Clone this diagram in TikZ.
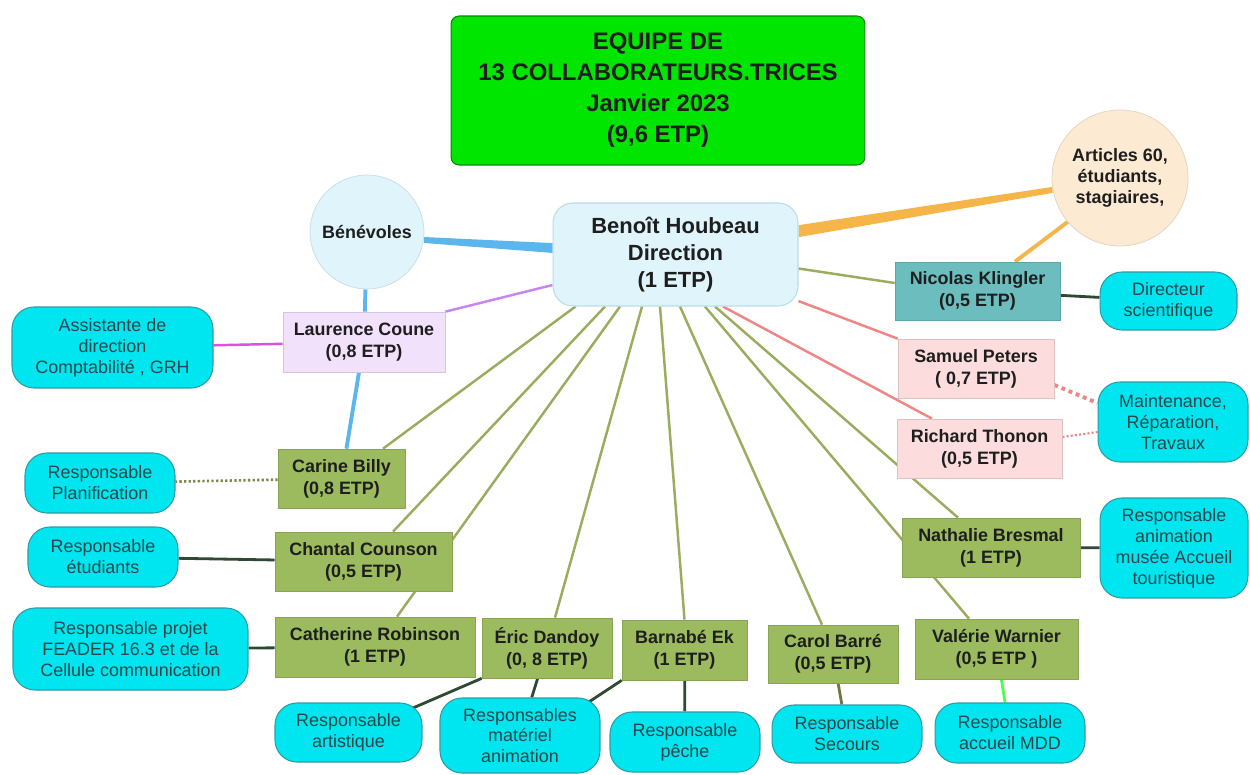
\documentclass[tikz,border=0pt]{standalone}
\usepackage{fontspec}
\setmainfont{Liberation Sans}

\definecolor{titlegreen}{HTML}{00E600}
\definecolor{bossfill}{HTML}{DFF5FB}
\definecolor{bossline}{HTML}{B9DDE9}
\definecolor{peachfill}{HTML}{FCEAD3}
\definecolor{klteal}{HTML}{6CBDBD}
\definecolor{laurafill}{HTML}{F1E1FB}
\definecolor{staffgreen}{HTML}{9BBB5E}
\definecolor{staffpink}{HTML}{FCDCDC}
\definecolor{taskcyan}{HTML}{00E6F0}
\definecolor{taskedge}{HTML}{2D9CA5}
\definecolor{tasktext}{HTML}{27474B}
\definecolor{namecol}{HTML}{1E1E1E}
\definecolor{olivelink}{HTML}{9AAD5F}
\definecolor{darklink}{HTML}{2E4A32}
\definecolor{bluelink}{HTML}{5CB6EE}
\definecolor{orangelink}{HTML}{F5B548}
\definecolor{redlink}{HTML}{F08585}
\definecolor{purplelink}{HTML}{C586F0}
\definecolor{magentalink}{HTML}{E050E0}

\pgfdeclarelayer{links}
\pgfsetlayers{links,main}

\tikzset{
  person/.style={rectangle, draw=#1!88!black, fill=#1, line width=0.4pt, inner sep=1pt,
    font=\bfseries\fontsize{10.2}{12.6}\selectfont, text=namecol, align=center},
  person/.default=staffgreen,
  task/.style={rectangle, rounded corners=0.44cm, draw=taskedge, fill=taskcyan, line width=0.6pt,
    inner sep=1pt, font=\fontsize{10.2}{11.9}\selectfont, text=tasktext, align=center},
  bubble/.style={circle, draw=#1!90!black, fill=#1, line width=0.4pt, inner sep=0pt,
    font=\bfseries\fontsize{10.2}{12}\selectfont, text=namecol, align=center},
  olive/.style={draw=olivelink, line width=1.4pt},
  dark/.style={draw=darklink, line width=1.6pt}
}

\begin{document}
\begin{tikzpicture}[x=0.02cm,y=-0.02cm]
\useasboundingbox (0,0) rectangle (1250,774);

\node[rectangle, rounded corners=0.16cm, draw=green!55!black, fill=titlegreen, line width=0.6pt,
  font=\bfseries\fontsize{13.6}{17.6}\selectfont, text=namecol, align=center,
  minimum width=8.28cm, minimum height=2.98cm] (titre) at (658,90.5)
  {EQUIPE DE\\13 COLLABORATEURS.TRICES\\Janvier 2023\\(9,6 ETP)};

\node[rectangle, rounded corners=0.4cm, draw=bossline, fill=bossfill, line width=0.6pt,
  font=\bfseries\fontsize{12.5}{15.5}\selectfont, text=namecol, align=center,
  minimum width=4.9cm, minimum height=2.06cm] (benoit) at (675.5,254.5)
  {Beno\^{\i}t Houbeau\\Direction\\(1 ETP)};

\node[bubble=bossfill, minimum size=2.28cm] (benevoles) at (367,232) {Bénévoles};
\node[bubble=peachfill, minimum size=2.72cm] (articles) at (1120,178) {Articles 60,\\étudiants,\\stagiaires,};

% equipe
\node[person=klteal, minimum width=3.3cm, minimum height=1.16cm] (nicolas) at (977.5,291) {Nicolas Klingler\\(0,5 ETP)};
\node[person=laurafill, minimum width=3.24cm, minimum height=1.2cm] (laurence) at (364,342) {Laurence Coune\\(0,8 ETP)};
\node[person=staffpink, minimum width=3.12cm, minimum height=1.18cm] (samuel) at (976,368.5) {Samuel Peters\\( 0,7 ETP)};
\node[person=staffpink, minimum width=3.3cm, minimum height=1.18cm] (richard) at (979.5,448.5) {Richard Thonon\\(0,5 ETP)};
\node[person, minimum width=2.54cm, minimum height=1.18cm] (carine) at (341.5,478.5) {Carine Billy\\(0,8 ETP)};
\node[person, minimum width=3.54cm, minimum height=1.18cm] (chantal) at (363.5,561.5) {Chantal Counson\\(0,5 ETP)};
\node[person, minimum width=4.0cm, minimum height=1.2cm] (catherine) at (375,647) {Catherine Robinson\\(1 ETP)};
\node[person, minimum width=2.6cm, minimum height=1.2cm] (eric) at (547,648) {Éric Dandoy\\(0, 8 ETP)};
\node[person, minimum width=2.5cm, minimum height=1.2cm] (barnabe) at (684.5,650) {Barnabé Ek\\(1 ETP)};
\node[person, minimum width=2.6cm, minimum height=1.16cm] (carol) at (833,654) {Carol Barré\\(0,5 ETP)};
\node[person, minimum width=3.26cm, minimum height=1.2cm] (valerie) at (996.5,649) {Valérie Warnier\\(0,5 ETP )};
\node[person, minimum width=3.56cm, minimum height=1.18cm] (nathalie) at (991,547.5) {Nathalie Bresmal\\(1 ETP)};

% missions
\node[task, minimum width=2.74cm, minimum height=1.16cm] (directeur) at (1168.5,301) {Directeur\\scientifique};
\node[task, minimum width=4.02cm, minimum height=1.62cm] (assist) at (112.5,347.5) {Assistante de\\direction\\Comptabilité , GRH};
\node[task, minimum width=3.0cm, minimum height=1.2cm] (planif) at (100,483) {Responsable\\Planification};
\node[task, minimum width=3.0cm, minimum height=1.2cm] (etudiants) at (103,557) {Responsable\\étudiants};
\node[task, minimum width=4.7cm, minimum height=1.64cm] (feader) at (130.5,649) {Responsable projet\\FEADER 16.3 et de la\\Cellule communication};
\node[task, minimum width=3.0cm, minimum height=1.6cm] (maint) at (1173,422) {Maintenance,\\Réparation,\\Travaux};
\node[task, minimum width=2.96cm, minimum height=2.0cm] (musee) at (1174,548) {Responsable\\animation\\musée Accueil\\touristique};
\node[task, minimum width=2.94cm, minimum height=1.18cm] (artistique) at (348.5,732.5) {Responsable\\artistique};
\node[task, minimum width=3.2cm, minimum height=1.5cm] (materiel) at (520,735.5) {Responsables\\matériel\\animation};
\node[task, minimum width=3.0cm, minimum height=1.2cm] (peche) at (685,742) {Responsable\\pêche};
\node[task, minimum width=3.0cm, minimum height=1.16cm] (secours) at (847,734) {Responsable\\Secours};
\node[task, minimum width=3.0cm, minimum height=1.2cm] (mdd) at (1010,733) {Responsable\\accueil MDD};

\begin{pgfonlayer}{links}
\fill[white] (0,0) rectangle (1250,774);
\fill[bluelink] ([yshift=0.9pt]benoit.west) -- ([yshift=-1.7pt]benevoles.-8)
  -- ([yshift=1.7pt]benevoles.-8) -- ([yshift=6.5pt]benoit.west) -- cycle;
\fill[orangelink] ([yshift=9.9pt]benoit.east) -- ([yshift=-1.7pt]articles.190)
  -- ([yshift=1.7pt]articles.190) -- ([yshift=16.7pt]benoit.east) -- cycle;
\draw[orangelink, line width=2.2pt] (articles.220) -- ([xshift=0.75cm]nicolas.north);
\draw[bluelink, line width=2.2pt] (benevoles) -- (laurence);
\draw[bluelink, line width=2.2pt] (laurence) -- (carine);
\draw[purplelink, line width=1.4pt] (benoit) -- (laurence.north east);
\draw[magentalink, line width=1.4pt] (laurence) -- (assist);
\draw[olive] ([yshift=-0.28cm]benoit.east) -- ([yshift=0.16cm]nicolas.west);
\foreach \s/\n/\e in {-2.0/carine/0.83, -1.41/chantal/0.59, -1.11/catherine/0.44, -0.67/eric/0.16,
    -0.31/barnabe/0, 0.09/carol/-0.22, 0.59/valerie/-0.55, 0.79/nathalie/-0.66}
  \draw[olive] ([xshift=\s cm]benoit.south) -- ([xshift=\e cm]\n.north);
\draw[redlink, line width=1.4pt] (benoit) -- (samuel.north west);
\draw[redlink, line width=1.4pt] ([xshift=0.95cm]benoit.south) -- ([xshift=-0.95cm]richard.north);
\draw[redlink, line width=2.2pt, dash pattern=on 2.2pt off 2.2pt] ([yshift=-0.33cm]samuel.east) -- ([yshift=0.38cm]maint.west);
\draw[redlink, line width=1.2pt, dash pattern=on 1.2pt off 1.2pt] ([yshift=0.23cm]richard.east) -- ([yshift=-0.2cm]maint.west);
\draw[olivelink!80!black, line width=1.5pt, dash pattern=on 1.3pt off 1.3pt] (carine) -- (planif);
\draw[dark] (nicolas) -- (directeur);
\draw[dark] (chantal) -- (etudiants);
\draw[dark] (catherine) -- (feader);
\draw[dark] (nathalie) -- (musee);
\draw[dark] (eric.south west) -- ([xshift=-0.4cm,yshift=-0.2cm]artistique.north east);
\draw[dark] (eric) -- (materiel);
\draw[dark] (barnabe.south west) -- ([xshift=-0.4cm,yshift=-0.2cm]materiel.north east);
\draw[dark] (barnabe) -- (peche);
\draw[draw=olivelink!70!black, line width=1.6pt] (carol) -- (secours);
\draw[draw=green!70!white, line width=1.6pt] (valerie) -- (mdd);
\end{pgfonlayer}
\end{tikzpicture}
\end{document}
